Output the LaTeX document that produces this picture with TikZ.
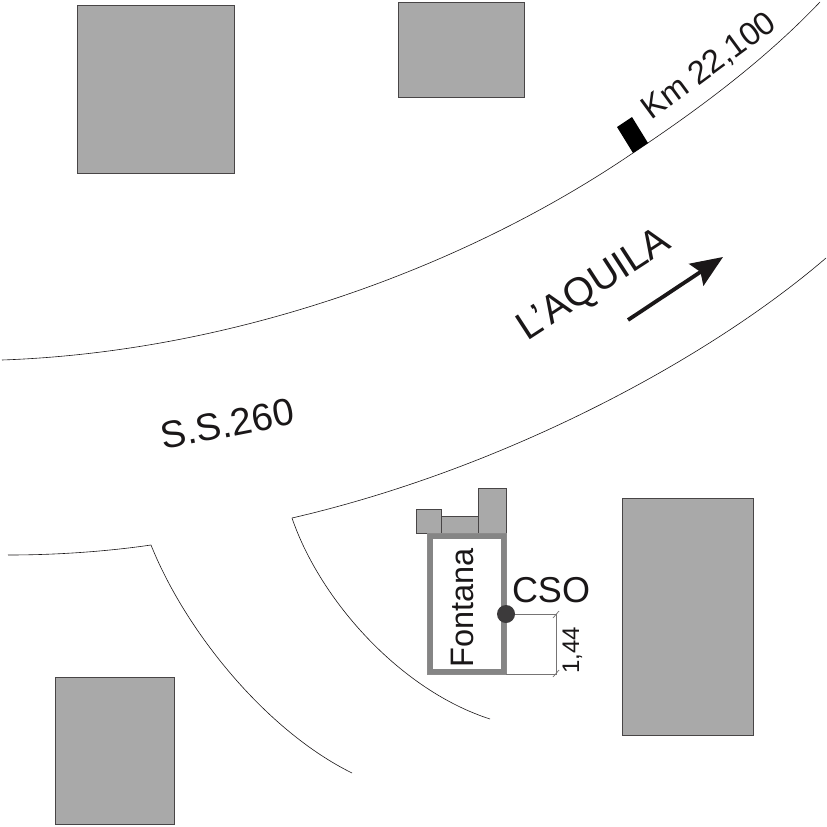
\documentclass[tikz,border=0pt]{standalone}
\usepackage{fontspec}
\setmainfont{Liberation Sans}
\usetikzlibrary{arrows.meta}
\definecolor{bldg}{HTML}{A9A9A9}
\definecolor{wall}{HTML}{858585}
\definecolor{ink}{HTML}{1A1718}
\tikzset{
  bldgbox/.style={draw=ink!80,fill=bldg,line width=0.7pt},
  road/.style={draw=ink,line width=0.6pt},
  dim/.style={draw=ink!60,line width=0.7pt},
  lab/.style={text=ink,inner sep=0pt,anchor=center},
  rlab/.style={text=ink,inner sep=0pt,anchor=base}
}
\begin{document}
\begin{tikzpicture}[x=1pt,y=-1pt]
\useasboundingbox (0,0) rectangle (827,827);
\fill[white] (0,0) rectangle (827,827);
% buildings
\draw[bldgbox] (77,5) rectangle (234,173);
\draw[bldgbox] (398,2) rectangle (524,97);
\draw[bldgbox] (622,498) rectangle (753,735);
\draw[bldgbox] (55,677) rectangle (174,824);
% roads
\draw[road] (2,360) .. controls (230,352) and (460,270) .. (630,155) .. controls (690,115) and (760,65) .. (820,2);
\draw[road] (292,518) .. controls (500,470) and (705,362) .. (826,258);
\draw[road] (292,518) .. controls (320,600) and (400,690) .. (490,719);
\draw[road] (8,555) .. controls (60,555) and (110,551) .. (151,545);
\draw[road] (151,545) .. controls (185,630) and (265,730) .. (352,773);
% km marker
\fill[black] (617,127) -- (632,117) -- (648,143) -- (633,153) -- cycle;
% Fontana block
\draw[bldgbox] (441,516) rectangle (478,533);
\draw[bldgbox] (416,509) rectangle (441,533);
\draw[bldgbox] (478,488) rectangle (506,533);
\draw[draw=wall,fill=white,line width=6pt] (430,535.5) rectangle (503.5,671.5);
\draw[draw=ink!50,line width=0.4pt] (427,533) rectangle (506.5,674.5);
% dimension
\coordinate (dA) at (506,614);
\coordinate (dB) at (556,614);
\coordinate (dC) at (556,674);
\coordinate (dD) at (506,674);
\draw[dim] (dA) -- (dB) -- (dC) -- (dD);
\draw[dim] (553,618) -- (559,611);
\draw[dim] (553,677) -- (559,670);
\node[circle,fill=ink!85,inner sep=0pt,minimum size=18pt] (cso) at (506,614) {};
% labels
\node[lab,font=\fontsize{36}{36}\selectfont] at (551,590) {CSO};
\node[rlab,font=\fontsize{32.5}{32.5}\selectfont,rotate=90] at (473,608) {Fontana};
\node[rlab,font=\fontsize{24}{24}\selectfont,rotate=90] at (579,650) {1,44};
\node[rlab,font=\fontsize{32.5}{32.5}\selectfont,rotate=36.4] at (715,74) {Km 22,100};
\node[rlab,font=\fontsize{39.5}{39.5}\selectfont,rotate=33] at (600,294) {L’AQUILA};
\node[lab,font=\fontsize{38}{38}\selectfont,rotate=11] at (227,424) {S.S.260};
% arrow
\coordinate (arA) at (628,320);
\coordinate (arB) at (723,257);
\draw[ink,line width=3.8pt,-{Stealth[length=32pt,width=26pt,inset=5pt]}] (arA) -- (arB);
\end{tikzpicture}
\end{document}
